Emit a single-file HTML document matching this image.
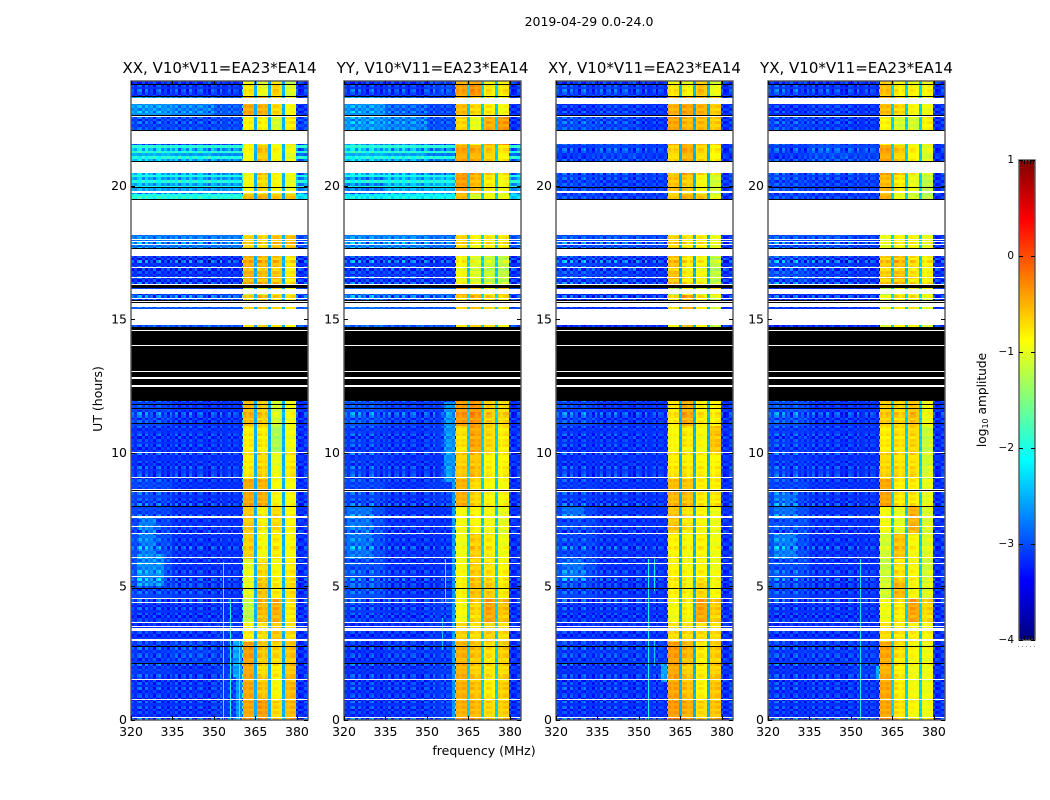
<!DOCTYPE html>
<html lang="en">
<head>
<meta charset="utf-8">
<title>2019-04-29 0.0-24.0</title>
<style>
html,body{margin:0;padding:0;background:#fff;width:1050px;height:800px;overflow:hidden}
svg{display:block}
text{font-family:"DejaVu Sans","Liberation Sans",sans-serif;fill:#000}
</style>
</head>
<body>
<svg id="figure" xmlns="http://www.w3.org/2000/svg" width="1050" height="800" viewBox="0 0 1050 800">
<text x="589" y="26" font-size="12.5" text-anchor="middle">2019-04-29 0.0-24.0</text>
<text x="484" y="755" font-size="12.5" text-anchor="middle">frequency (MHz)</text>
<text transform="translate(102,399) rotate(-90)" font-size="12.5" text-anchor="middle">UT (hours)</text>
<text transform="translate(986,400) rotate(-90)" font-size="12.2" text-anchor="middle">log<tspan font-size="8" dy="2">10</tspan><tspan dy="-2"> amplitude</tspan></text>
</svg>
<script>
// ---- categories and tick labels ----
const panelNames = ['XX', 'YY', 'XY', 'YX'];
const panelTitleSuffix = ', V10*V11=EA23*EA14';
const freqTicks = [320, 335, 350, 365, 380];
const hourTicks = [0, 5, 10, 15, 20];
const colorbarTicks = [1, 0, -1, -2, -3, -4];

// ---- frequency channels (MHz edges) and per-channel offsets (log10 x 100) ----
const channelEdges = [320,321,322,323,324,325,326,327,328,329,330,331,332,333,334,335,336,337,338,339,340,341,342,343,344,345,346,347,348,349,350,351,352,353,354,355,356,357,358,359,360,360.5,361.5,362.5,363.5,364.5,365.5,366.5,367.5,368.5,369.5,370.5,371.5,372.5,373.5,374.5,375.5,376.5,377.5,378.5,379.5,380.5,381.5,382.5,383.5,384];
const channelOffset = [
6,-4,10,14,-9,12,-5,3,-13,8,
15,-6,2,-11,7,-3,11,-14,5,9,
-8,13,-2,-12,6,10,-7,1,-15,9,
4,-10,12,-5,-1,8,-13,6,3,-6,
40,
3,-3,5,2,0,8,5,-4,3,0,-6,6,3,-5,0,4,-3,5,6,10,-12,-6,8,4
];
const segmentEdges = [335, 350, 360.4, 365, 370, 375, 380];
const dipChannels = [365, 370, 375];
const dipLevels = [-2.5, -2.35, -2.5, -2.35];

// ---- time blocks (hours, upper edge of each block) ----
const blockTops = [0.8,1.6,2.1,2.9,3.6,4.5,5.2,6,7,8,9,10,11,14.7,15.9,16.3,17.6,18.2,19.75,20.45,21.55,22.6,23.26,24];

// ---- log10 amplitude per time block, columns 320-335, 335-350, 350-360, 360-365, 365-370, 370-375, 375-380, 380-384 ----
const levelsXX = [
[-3.0,-3.0,-2.95,-0.35,-0.3,-0.6,-0.45,-3.0],
[-3.0,-3.0,-2.95,-0.35,-0.5,-0.8,-0.45,-3.0],
[-2.95,-3.0,-2.95,-0.35,-0.6,-0.7,-0.5,-3.0],
[-2.95,-2.9,-2.95,-0.3,-0.5,-0.6,-0.5,-3.0],
[-3.0,-3.0,-2.95,-0.7,-0.6,-0.5,-0.6,-3.0],
[-3.0,-3.0,-3.0,-1.1,-0.45,-0.4,-0.7,-3.0],
[-2.9,-2.95,-3.0,-0.9,-0.5,-0.7,-0.65,-3.0],
[-2.85,-3.0,-3.0,-0.9,-0.6,-0.8,-0.7,-3.0],
[-2.85,-3.0,-3.0,-0.55,-0.8,-0.7,-0.8,-3.0],
[-2.9,-3.0,-3.0,-0.5,-0.7,-0.6,-0.75,-3.0],
[-2.9,-3.0,-3.0,-0.35,-0.4,-0.8,-0.8,-3.0],
[-3.0,-3.0,-3.0,-0.7,-0.6,-0.9,-0.7,-3.0],
[-3.0,-3.0,-3.0,-0.7,-0.7,-1.2,-0.85,-3.0],
[-2.9,-3.0,-3.0,-0.45,-0.55,-1.0,-0.85,-3.0],
[-2.8,-2.8,-2.8,-0.6,-0.5,-0.6,-0.7,-2.8],
[-2.9,-2.9,-2.9,-1.0,-0.9,-0.6,-0.8,-2.9],
[-3.0,-3.0,-3.0,-0.4,-0.45,-0.5,-0.7,-3.0],
[-2.65,-2.65,-2.65,-0.6,-0.6,-0.5,-0.5,-2.85],
[-1.85,-1.85,-1.85,-0.45,-0.4,-0.5,-0.5,-2.1],
[-2.45,-2.45,-2.5,-0.8,-0.6,-0.8,-0.9,-2.55],
[-2.35,-2.45,-2.55,-0.8,-0.5,-0.8,-0.9,-2.75],
[-2.9,-2.9,-2.9,-0.75,-0.75,-1.0,-0.7,-2.9],
[-2.5,-2.6,-2.8,-0.35,-0.4,-0.6,-0.8,-3.0],
[-3.0,-3.0,-3.0,-0.7,-0.9,-0.6,-1.0,-3.0]
];
const levelsYY = [
[-3.0,-3.0,-2.95,-0.4,-0.45,-0.6,-0.55,-3.0],
[-3.0,-3.0,-2.95,-0.4,-0.5,-0.7,-0.55,-3.0],
[-3.0,-3.0,-2.95,-0.4,-0.55,-0.65,-0.6,-3.0],
[-3.0,-2.95,-2.95,-0.4,-0.5,-0.65,-0.55,-3.0],
[-3.0,-3.0,-2.95,-0.55,-0.6,-0.55,-0.6,-3.0],
[-2.95,-3.0,-2.95,-0.8,-0.6,-0.35,-0.5,-3.0],
[-2.85,-3.0,-3.0,-0.75,-0.5,-0.55,-0.7,-3.0],
[-2.85,-3.0,-3.0,-0.8,-0.55,-0.65,-0.75,-3.0],
[-2.85,-3.0,-3.0,-0.85,-0.55,-0.7,-0.85,-3.0],
[-2.85,-3.0,-3.0,-0.8,-0.75,-0.8,-0.9,-3.0],
[-2.9,-3.0,-2.95,-0.4,-0.6,-0.8,-0.8,-3.0],
[-2.95,-3.0,-3.0,-0.55,-0.5,-0.75,-0.75,-3.0],
[-2.95,-3.0,-2.95,-0.65,-0.35,-0.6,-0.7,-3.0],
[-2.85,-2.95,-2.95,-0.3,-0.28,-0.55,-0.6,-3.0],
[-2.7,-2.8,-2.8,-0.6,-0.5,-0.6,-0.7,-2.9],
[-2.7,-2.7,-2.7,-0.3,-0.5,-0.7,-0.5,-2.9],
[-2.95,-2.95,-3.0,-0.8,-0.95,-1.05,-1.1,-3.0],
[-2.6,-2.6,-2.7,-0.6,-0.8,-0.7,-0.7,-2.8],
[-2.05,-2.0,-2.0,-0.45,-1.0,-0.8,-0.9,-2.2],
[-2.65,-2.4,-2.35,-0.3,-0.45,-0.7,-0.8,-2.5],
[-2.35,-2.45,-2.65,-0.35,-0.4,-0.55,-0.7,-2.75],
[-2.5,-2.6,-2.85,-0.6,-0.9,-0.4,-0.3,-3.0],
[-2.5,-2.75,-2.9,-0.45,-0.6,-0.7,-0.8,-3.0],
[-3.0,-3.0,-2.9,-0.35,-0.3,-0.7,-0.7,-3.0]
];
const levelsXY = [
[-3.0,-3.0,-3.0,-0.3,-0.4,-0.6,-0.5,-3.0],
[-3.0,-3.0,-3.0,-0.35,-0.5,-0.75,-0.5,-3.0],
[-3.0,-3.0,-2.95,-0.35,-0.55,-0.7,-0.55,-3.0],
[-2.95,-2.95,-2.95,-0.3,-0.45,-0.7,-0.55,-3.0],
[-3.0,-3.0,-3.0,-0.6,-0.6,-0.6,-0.6,-3.0],
[-3.0,-3.0,-3.0,-0.85,-0.75,-0.35,-0.55,-3.0],
[-2.9,-3.0,-3.0,-0.75,-0.75,-0.6,-0.8,-3.0],
[-2.85,-3.0,-3.0,-0.75,-0.8,-0.75,-0.85,-3.0],
[-2.9,-3.0,-3.0,-0.75,-0.8,-0.75,-0.85,-3.0],
[-2.9,-3.0,-3.0,-0.5,-0.65,-0.75,-0.85,-3.0],
[-2.95,-3.0,-3.0,-0.45,-0.5,-0.7,-0.7,-3.0],
[-3.0,-3.0,-3.0,-0.7,-0.7,-0.75,-0.75,-3.0],
[-3.0,-3.0,-3.0,-0.8,-0.7,-0.8,-0.5,-3.0],
[-2.9,-3.0,-3.0,-0.7,-0.4,-0.7,-0.75,-3.0],
[-3.0,-3.0,-3.0,-0.7,-0.4,-0.7,-1.0,-3.0],
[-3.0,-3.0,-3.0,-1.1,-0.8,-0.9,-0.6,-3.0],
[-2.9,-2.95,-3.0,-0.5,-0.7,-0.8,-1.1,-3.0],
[-2.85,-2.85,-2.9,-0.6,-0.7,-0.7,-0.9,-3.0],
[-2.9,-2.95,-2.95,-0.55,-0.4,-0.5,-0.9,-3.0],
[-2.9,-2.95,-2.95,-0.5,-0.55,-0.8,-1.0,-2.95],
[-2.95,-2.9,-2.95,-0.6,-0.4,-0.6,-0.75,-3.0],
[-2.85,-2.9,-3.0,-0.35,-0.45,-0.45,-0.55,-3.0],
[-3.0,-2.95,-3.0,-0.4,-0.35,-0.4,-0.55,-3.0],
[-2.95,-2.95,-3.0,-0.7,-0.8,-0.5,-0.9,-3.0]
];
const levelsYX = [
[-3.0,-3.0,-3.0,-0.35,-0.65,-0.8,-0.85,-3.0],
[-3.0,-3.0,-3.0,-0.35,-0.7,-0.85,-0.85,-3.0],
[-3.0,-3.0,-2.95,-0.4,-0.7,-0.85,-0.85,-3.0],
[-2.95,-2.95,-2.95,-0.35,-0.65,-0.8,-0.85,-3.0],
[-3.0,-3.0,-3.0,-0.6,-0.65,-0.7,-0.75,-3.0],
[-3.0,-3.0,-3.0,-0.85,-0.7,-0.35,-0.6,-3.0],
[-2.9,-3.0,-3.0,-1.0,-0.45,-0.8,-0.95,-3.0],
[-2.85,-3.0,-3.0,-1.05,-0.65,-0.8,-1.0,-3.0],
[-2.85,-3.0,-3.0,-1.0,-0.5,-0.8,-0.95,-3.0],
[-2.85,-3.0,-3.0,-0.8,-0.9,-0.4,-0.95,-3.0],
[-2.9,-3.0,-3.0,-0.35,-0.7,-0.7,-0.9,-3.0],
[-2.95,-3.0,-3.0,-0.6,-0.65,-0.65,-1.0,-3.0],
[-2.95,-3.0,-3.0,-0.7,-0.65,-0.6,-1.05,-3.0],
[-2.85,-3.0,-3.0,-0.55,-0.6,-0.5,-0.85,-3.0],
[-3.0,-3.0,-3.0,-0.9,-0.7,-0.7,-0.9,-3.0],
[-3.0,-3.0,-3.0,-1.1,-0.8,-0.85,-0.8,-3.0],
[-2.85,-2.95,-3.0,-0.55,-0.5,-0.65,-0.75,-3.0],
[-2.85,-2.85,-2.95,-0.9,-0.8,-0.8,-0.9,-3.0],
[-2.9,-2.95,-2.95,-0.4,-0.9,-1.0,-1.1,-3.0],
[-2.9,-2.95,-2.95,-0.45,-0.7,-0.9,-1.1,-3.0],
[-2.95,-2.85,-2.9,-0.35,-0.55,-0.75,-0.95,-3.0],
[-2.9,-2.95,-3.0,-0.75,-1.0,-1.0,-0.75,-3.0],
[-3.0,-2.95,-3.0,-0.45,-0.6,-0.8,-0.85,-3.0],
[-2.95,-3.0,-3.0,-0.5,-0.75,-0.8,-0.8,-3.0]
];

// ---- per-row gain, one entry per 0.1 h (log10 x 100) ----
const rowOffset = [
18,-6,4,-9,7,-3,10,-12,5,2,-7,9,-4,6,-11,3,8,-5,1,-8,
12,-2,-10,6,4,-6,9,-13,3,7,-1,-9,5,11,-4,-7,8,2,-12,6,
-3,9,-8,4,10,-5,-2,7,-10,3,6,-9,12,-4,1,8,-7,-3,5,-11,
9,2,-6,4,13,-8,-1,6,-5,10,-12,3,7,-2,-9,5,8,-6,1,-4,
11,-10,4,-3,7,9,-7,2,-5,6,-13,8,3,-1,10,-8,5,-4,-6,12,
2,-9,7,-2,4,-11,9,1,-6,8,-3,5,-10,6,13,-7,-1,4,-5,9,
0,0,0,0,0,0,0,0,0,0,0,0,0,0,0,0,0,0,0,0,
0,0,0,0,0,0,6,-9,3,5,-7,4,8,-5,6,-3,9,-14,12,-10,
7,-4,-8,14,-12,10,-6,5,-16,12,-4,18,-14,6,16,-18,10,-8,14,-6,
5,-7,4,-3,8,0,0,0,0,0,0,0,0,0,0,4,-6,-14,3,-10,
5,-8,6,-3,9,2,-7,8,-5,7,-9,-5,4,9,-3,6,-7,11,-2,-9,
6,3,-6,8,-10,7,-4,9,-8,5,-6,-4,6,-9,3,11,-2,7,-10,4
];

// ---- flagged time ranges [start hour, end hour] ----
const blackoutBlock = [[11.93, 14.70]];
const whiteFlags = [
[23.05,23.26],[22.565,22.60],[21.554,22.04],[20.45,20.88],[19.72,19.78],[18.15,19.44],[17.97,18.01],[17.87,17.92],[17.76,17.81],
[17.36,17.62],[16.91,16.95],[16.54,16.57],[16.27,16.31],[15.94,16.12],[15.75,15.79],[15.62,15.66],[15.45,15.60],[14.78,15.37],
[14.55,14.60],[14.0,14.04],[13.03,13.07],[12.77,12.81],[12.47,12.51],
[9.97,10.01],[9.03,9.07],[8.60,8.63],[8.52,8.55],[7.56,7.63],[7.22,7.25],[6.96,7.0],[6.06,6.09],[5.84,5.87],[5.36,5.39],
[4.53,4.56],[4.36,4.39],[3.63,3.66],[3.49,3.52],[3.33,3.43],[2.99,3.02],[2.94,2.97],[1.49,1.52],[0.73,0.76],[0.07,0.10]
];
const blackFlags = [
[23.77,23.81],[23.33,23.37],[22.61,22.64],[22.05,22.08],[20.90,20.93],[19.93,19.96],[19.45,19.48],[17.64,17.67],[16.16,16.27],
[15.68,15.71],[15.60,15.62],[11.80,11.83],[11.65,11.68],[11.09,11.12],[8.56,8.59],[7.96,7.99],[4.88,4.91],[2.73,2.76],[2.10,2.13]
];

// ---- bright horizontal stripes in the parallel hands: [start, end, level] ----
const stripesParallel = [[21.4,21.5,-1.9],[21.2,21.3,-1.95],[21.0,21.1,-1.95],[20.3,20.4,-2.0],[20.1,20.2,-1.95],[19.9,20.0,-2.0]];
const stripesCross = [];

// ---- brighter time-frequency patches: [MHz from, MHz to, hour from, hour to, level] ----
const patchesXX = [[357,360.4,1.6,3,-2.6],[358,360.4,0,1.6,-2.65],[322,332,5,6.2,-2.68],[323,329,6.2,7.6,-2.75]];
const patchesYY = [[356,360.4,8.9,11.93,-2.65],[359,360.4,0,8.9,-2.6],[321,330,6,8,-2.8]];
const patchesXY = [[358,360.4,1.4,2.1,-2.55],[322,330,5.2,6,-2.8],[322,330,7.5,8,-2.82]];
const patchesYX = [[359,360.4,1.5,2,-2.5],[322,330,6,7,-2.75],[322,330,7.5,8.5,-2.82]];

// ---- narrow interference channels: [MHz, start, end, level] ----
const rfiXX = [[353.3,0,5.9,-2.0],[355.8,0,4.5,-2.05],[359.2,0,3,-2.1]];
const rfiYY = [[356.5,4.4,6,-2.1],[355.5,2.6,3.8,-2.4]];
const rfiXY = [[353.3,0,6,-2.1],[355.6,4.8,6,-2.2],[355.6,2,3,-2.4]];
const rfiYX = [[353.4,0,6,-2.2]];

// ---- layout ----
const panelLefts = [131, 344, 556, 768];
const panelWidth = 177, panelTop = 81, panelBottom = 720;
const quietBias = -0.13;
const bandBias = -0.1;
const levelsAll = [levelsXX, levelsYY, levelsXY, levelsYX];
const rfiAll = [rfiXX, rfiYY, rfiXY, rfiYX];
const patchesAll = [patchesXX, patchesYY, patchesXY, patchesYX];
const stripesAll = [stripesParallel, stripesParallel, stripesCross, stripesCross];
const svg = document.getElementById('figure');
const NS = 'http://www.w3.org/2000/svg';

function make(tag, parent) {
  const el = document.createElementNS(NS, tag);
  parent.appendChild(el);
  return el;
}
function box(el, x, y, w, h, fill) {
  el.setAttribute('x', x);
  el.setAttribute('y', y);
  el.setAttribute('width', w);
  el.setAttribute('height', h);
  el.setAttribute('fill', fill);
}
function seg(el, x1, y1, x2, y2, color, width) {
  el.setAttribute('x1', x1);
  el.setAttribute('y1', y1);
  el.setAttribute('x2', x2);
  el.setAttribute('y2', y2);
  el.setAttribute('stroke', color);
  el.setAttribute('stroke-width', width);
}
function xScale(left, mhz) { return left + (mhz - 320) * 2.766; }
function yScale(hour) { return 719.5 - hour * 26.7; }
function cbScale(v) { return 640 - (v + 4) * 96; }
function jet(v) {
  const t = Math.max(0, Math.min(1, (v + 4) / 5));
  const c = k => Math.round(255 * Math.max(0, Math.min(1, 1.5 - Math.abs(4 * t - k))));
  return 'rgb(' + c(3) + ',' + c(2) + ',' + c(1) + ')';
}
function segmentIndex(f) {
  let i = 0;
  while (i < segmentEdges.length && f >= segmentEdges[i]) i++;
  return i;
}
function blockIndex(h) {
  let i = 0;
  while (i < blockTops.length - 1 && h >= blockTops[i]) i++;
  return i;
}
function isCovered(h0, h1) {
  const all = blackoutBlock.concat(whiteFlags);
  return all.some(r => r[0] <= h0 && r[1] >= h1);
}

panelNames.forEach((name, p) => {
  const left = panelLefts[p];
  const key = name.toLowerCase();
  const g = make('g', svg);
  
  
  g.setAttribute('shape-rendering', 'crispEdges');

  const cells = make('g', g);
  
  

  const levels = levelsAll[p];
  const stripes = stripesAll[p];
  const patches = patchesAll[p];
  const rowCount = 239;
  for (let r = 0; r < rowCount; r++) {
    const h0 = r * 0.1, h1 = Math.min(23.91, (r + 1) * 0.1);
    if (isCovered(h0, h1)) continue;
    const yTop = Math.round(yScale(h1)), yBot = Math.round(yScale(h0));
    const hc = (h0 + h1) / 2;
    const row = levels[blockIndex(hc)];
    const stripe = stripes.find(s => hc >= s[0] && hc < s[1]);
    for (let c = 0; c < channelEdges.length - 1; c++) {
      const f0 = channelEdges[c], f1 = channelEdges[c + 1];
      const fc = (f0 + f1) / 2;
      const quiet = fc < 360.4 || fc >= 380;
      let v = row[segmentIndex(fc)] + (quiet ? quietBias : bandBias);
      if (dipChannels.indexOf(fc) >= 0) v = dipLevels[p];
      if (stripe && quiet) v = stripe[2];
      const patch = patches.find(s => fc >= s[0] && fc < s[1] && hc >= s[2] && hc < s[3]);
      if (patch) v = patch[4];
      const co = channelOffset[c], ro = rowOffset[r];
      v += quiet ? co * 0.006 + ro * 0.003 + co * ro / 420 : (co + ro) * 0.006 + co * ro / 900;
      const xa = Math.round(xScale(left, f0)), xb = Math.round(xScale(left, f1));
      const cell = make('rect', cells);
      
      
      box(cell, xa, yTop, xb - xa, yBot - yTop, jet(v));
    }
  }

  rfiAll[p].forEach(line => {
    const yTop = Math.round(yScale(line[2])), yBot = Math.round(yScale(line[1]));
    const rfi = make('rect', g);
    
    
    box(rfi, Math.round(xScale(left, line[0])), yTop, 1, yBot - yTop, jet(line[3]));
  });

  const paintFlags = (list, color, label) => list.forEach(range => {
    const yTop = Math.round(yScale(range[1]));
    const yBot = Math.max(yTop + 1, Math.round(yScale(range[0])));
    const flag = make('rect', g);
    
    
    box(flag, left, yTop, panelWidth, yBot - yTop, color);
  });
  paintFlags(blackoutBlock, '#000', 'flagged-block');
  paintFlags(whiteFlags, '#fff', 'flagged-white-row');
  paintFlags(blackFlags, '#000', 'flagged-black-row');

  const frame = make('rect', g);
  
  
  frame.setAttribute('x', left);
  frame.setAttribute('y', panelTop);
  frame.setAttribute('width', panelWidth);
  frame.setAttribute('height', panelBottom - panelTop);
  frame.setAttribute('fill', 'none');
  frame.setAttribute('stroke', '#555');
  frame.setAttribute('stroke-width', '1.4');
  frame.setAttribute('shape-rendering', 'auto');

  freqTicks.forEach(f => {
    const x = Math.round(xScale(left, f)) + 0.5;
    const tb = make('line', g);
    
    
    seg(tb, x, panelBottom, x, panelBottom - 4, '#000', 1);
    const tt = make('line', g);
    
    
    seg(tt, x, panelTop, x, panelTop + 4, '#000', 1);
    const lab = make('text', g);
    
    
    lab.setAttribute('x', xScale(left, f));
    lab.setAttribute('y', 736);
    lab.setAttribute('font-size', '12.5');
    lab.setAttribute('text-anchor', 'middle');
    lab.textContent = f;
  });
  hourTicks.forEach(h => {
    const y = Math.round(yScale(h)) + 0.5;
    const tl = make('line', g);
    
    
    seg(tl, left, y, left + 4, y, '#000', 1);
    const tr = make('line', g);
    
    
    seg(tr, left + panelWidth, y, left + panelWidth - 4, y, '#000', 1);
    const lab = make('text', g);
    
    
    lab.setAttribute('x', left - 4);
    lab.setAttribute('y', yScale(h) + 4.5);
    lab.setAttribute('font-size', '12.5');
    lab.setAttribute('text-anchor', 'end');
    lab.textContent = h;
  });

  const title = make('text', g);
  
  
  title.setAttribute('x', left + panelWidth / 2);
  title.setAttribute('y', 73);
  title.setAttribute('font-size', '15');
  title.setAttribute('text-anchor', 'middle');
  title.textContent = name + panelTitleSuffix;
});

// ---- colour bar ----
const cb = make('g', svg);


cb.setAttribute('shape-rendering', 'crispEdges');
const cbLeft = 1019, cbRight = 1035;
for (let y = 160; y < 640; y += 2) {
  const swatch = make('rect', cb);
  
  
  box(swatch, cbLeft, y, cbRight - cbLeft, 2, jet((640 - y - 1) / 96 - 4));
}
const cbFrame = make('rect', cb);


cbFrame.setAttribute('x', cbLeft);
cbFrame.setAttribute('y', 160);
cbFrame.setAttribute('width', cbRight - cbLeft);
cbFrame.setAttribute('height', 480);
cbFrame.setAttribute('fill', 'none');
cbFrame.setAttribute('stroke', '#555');
cbFrame.setAttribute('stroke-width', '1.4');
cbFrame.setAttribute('shape-rendering', 'auto');
colorbarTicks.forEach(v => {
  const y = Math.round(cbScale(v)) + 0.5;
  const a = make('line', cb);
  
  
  seg(a, cbLeft, y, cbLeft + 4, y, '#000', 1);
  const b = make('line', cb);
  
  
  seg(b, cbRight, y, cbRight - 4, y, '#000', 1);
  const lab = make('text', cb);
  
  
  lab.setAttribute('x', cbLeft - 5);
  lab.setAttribute('y', cbScale(v) + 3);
  lab.setAttribute('font-size', '10.5');
  lab.setAttribute('text-anchor', 'end');
  lab.textContent = v < 0 ? '\u2212' + Math.abs(v) : v;
});
for (let x = cbLeft + 2; x < cbRight - 1; x += 3) {
  const topTick = make('line', cb);
  
  
  seg(topTick, x + 0.5, 160, x + 0.5, 164, '#000', 1);
  const botTick = make('line', cb);
  
  
  seg(botTick, x + 0.5, 640, x + 0.5, 636, '#000', 1);
}
const dots = make('line', cb);


seg(dots, 1018, 646.5, 1035, 646.5, '#999', 1);
dots.setAttribute('stroke-dasharray', '1 3');
</script>
</body>
</html>
